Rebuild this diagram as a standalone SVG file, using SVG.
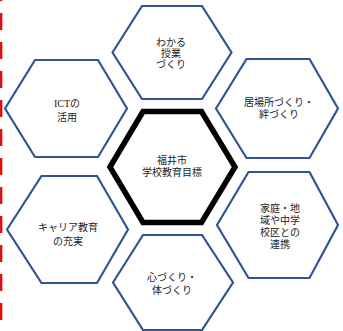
<svg xmlns="http://www.w3.org/2000/svg" width="343" height="331" viewBox="0 0 343 331">
<style>
.hex{fill:#ffffff;stroke:#2f5597;stroke-width:2.2;stroke-linejoin:miter}
.core{fill:#ffffff;stroke:#000000;stroke-width:5.5;stroke-linejoin:miter}
text{font-family:"Liberation Serif","Noto Sans CJK JP",serif;font-size:10px;fill:#222222;text-anchor:middle}
.dash{stroke:#e00000;stroke-width:2.2;stroke-dasharray:17 12;fill:none}
</style>
<g id="connectors">
<line class="dash" x1="1.2" y1="-16" x2="1.2" y2="331"/>
</g>
<g id="top">
<polygon class="hex" points="112.5,52.5 142,6 202,6 231.5,52.5 202,99 142,99"/>
<text x="171" y="46">わかる</text>
<text x="171" y="57">授業</text>
<text x="171" y="68">づくり</text>
</g>
<g id="right-upper">
<polygon class="hex" points="216,108.5 246.5,59 309.5,59 338,108.5 309.5,158 246.5,158"/>
<text x="279" y="106">居場所づくり・</text>
<text x="279" y="118">絆づくり</text>
</g>
<g id="right-lower">
<polygon class="hex" points="217,225 248.5,172 309.5,172 338,225 309.5,278 248.5,278"/>
<text x="280" y="211.5">家庭・地</text>
<text x="280" y="224">域や中学</text>
<text x="280" y="236">校区との</text>
<text x="280" y="248">連携</text>
</g>
<g id="left-upper">
<polygon class="hex" points="5,108.5 35,60 98,60 127,108.5 98,157 35,157"/>
<text x="67" y="107">ICTの</text>
<text x="67" y="121">活用</text>
</g>
<g id="left-lower">
<polygon class="hex" points="7,229.5 41.5,176 97,176 128,229.5 97,283 41.5,283"/>
<text x="68" y="231">キャリア教育</text>
<text x="68" y="245">の充実</text>
</g>
<g id="bottom">
<polygon class="hex" points="113,282.5 143,235 202,235 233,282.5 202,330 143,330"/>
<text x="172" y="281">心づくり・</text>
<text x="172" y="294">体づくり</text>
</g>
<g id="center">
<polygon class="core" points="110,167 143,111.5 201.5,111.5 235,167 201.5,222.5 143,222.5"/>
<text x="172" y="164">福井市</text>
<text x="172" y="176">学校教育目標</text>
</g>
</svg>
